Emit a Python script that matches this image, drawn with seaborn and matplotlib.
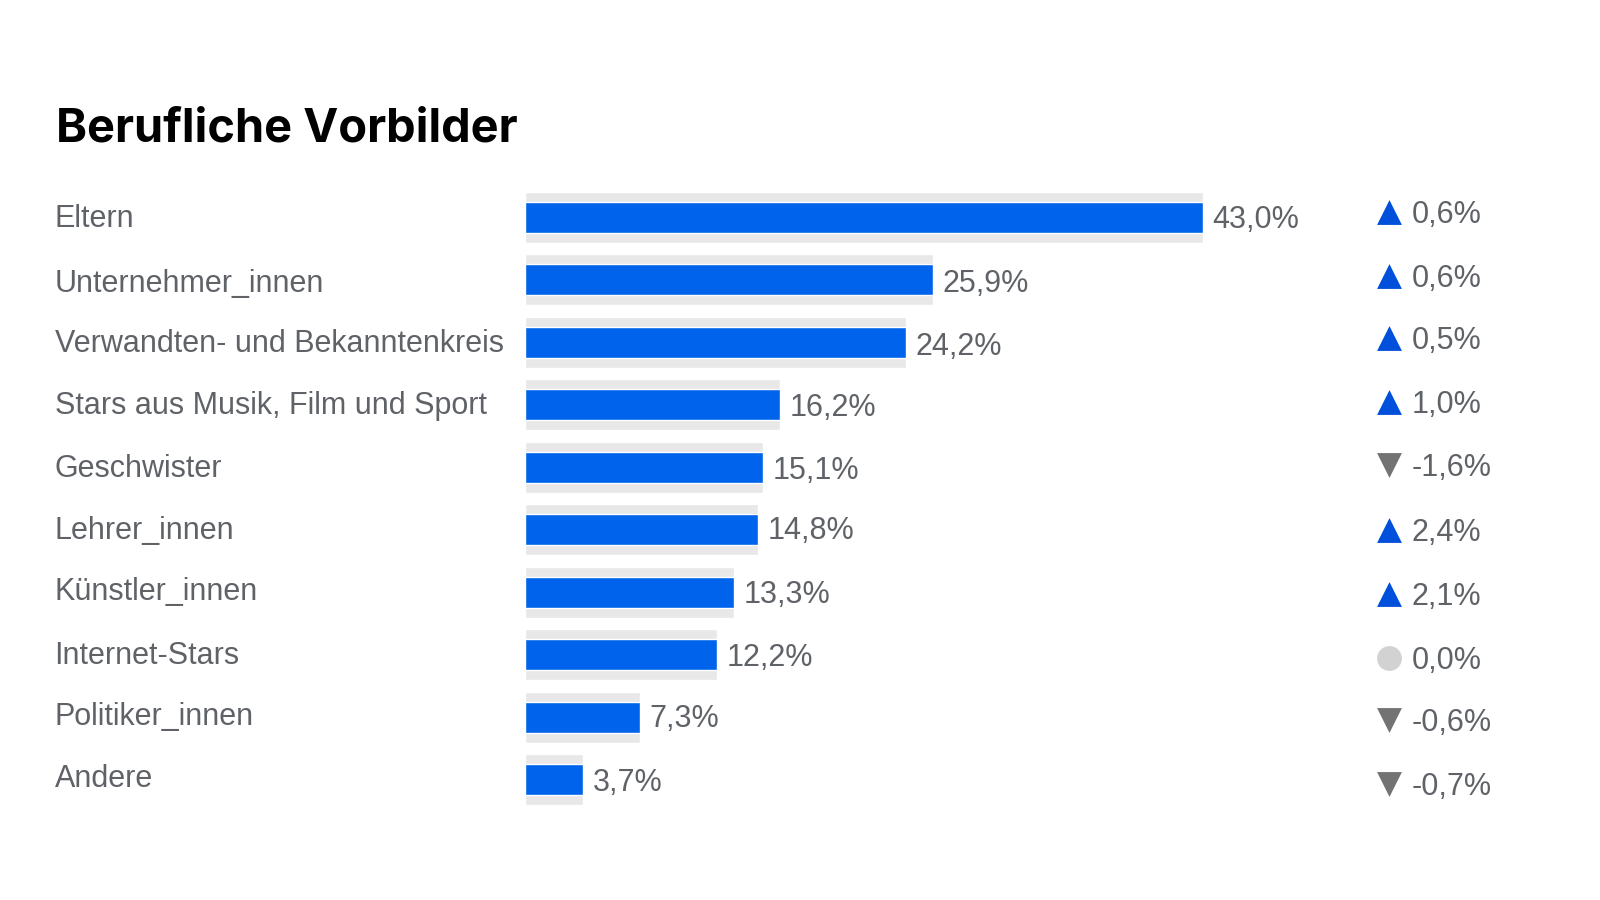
"""
Data Visualization Module
Creates the bar chart of professional role models
"""
import pandas as pd
import matplotlib.pyplot as plt
import seaborn as sns


CATEGORIES = ['Eltern', 'Unternehmer_innen', 'Verwandten- und Bekanntenkreis',
              'Stars aus Musik, Film und Sport', 'Geschwister', 'Lehrer_innen',
              'Künstler_innen', 'Internet-Stars', 'Politiker_innen', 'Andere']
VALUES = [43.0, 25.9, 24.2, 16.2, 15.1, 14.8, 13.3, 12.2, 7.3, 3.7]
CHANGES = [0.6, 0.6, 0.5, 1.0, -1.6, 2.4, 2.1, 0.0, -0.6, -0.7]

# Row text in the source sits a few pixels off the bars
NAME_SHIFT = [-1, 1, -1, -2, -1, -2, -3, -2, -3, -4]
VALUE_SHIFT = [0, 1, 2, 0, 1, -2, 0, 0, -1, 0]
CHANGE_SHIFT = [-5, -4, -4, -3, -2, 0, 2, 3, 3, 4]


class RoleModelVisualizer:
    """Create visualizations for the role model data"""

    def __init__(self):
        # Set style
        sns.set_style("white")
        plt.rcParams['font.family'] = ['Liberation Sans', 'DejaVu Sans']
        plt.rcParams['font.size'] = 22
        self.text_color = '#5f6368'

    def plot_role_models(self, df: pd.DataFrame, output_file: str = None):
        """
        Create bar chart of role models with changes on the right

        Args:
            df: DataFrame with role model statistics
            output_file: Optional output filename
        """
        fig = plt.figure(figsize=(16, 9))
        ax = fig.add_axes([524.5 / 1600, 1 - 811 / 900, 1075.5 / 1600, 625 / 900])

        # Grey track behind, blue bar on top
        sns.barplot(data=df, x='value', y='name', color='#e8e8e8', width=0.81,
                    saturation=1, ax=ax)
        sns.barplot(data=df, x='value', y='name', color='#0063eb', width=0.5,
                    saturation=1, ax=ax)

        ax.set_xlim(0, 68.2)
        ax.set_ylim(9.5, -0.5)
        ax.set_axis_off()

        px = 1 / 62.5  # one pixel in row units
        base = 11 * px  # baseline sits below the middle of the digits

        for i, row in df.iterrows():
            ax.text(-29.8, i + NAME_SHIFT[i] * px + base, row['name'], va='baseline',
                    color=self.text_color)
            ax.text(row['value'] + 0.62, i + VALUE_SHIFT[i] * px + base,
                    f"{row['value']:.1f}%".replace('.', ','), va='baseline',
                    color=self.text_color)

            # Marker depends on direction of the change
            if row['change'] > 0:
                marker, color = '^', '#0050dc'
            elif row['change'] < 0:
                marker, color = 'v', '#737373'
            else:
                marker, color = 'o', '#d2d2d2'
            y = i + CHANGE_SHIFT[i] * px
            ax.scatter(54.85, y, marker=marker, s=320, color=color, linewidth=0)
            ax.text(56.25, y + base, f"{row['change']:.1f}%".replace('.', ','),
                    va='baseline', color=self.text_color)

        fig.text(56 / 1600, 1 - 129 / 900, 'Berufliche Vorbilder', family='Inter',
                 fontsize=33.8, fontweight='bold', color='black', va='center')

        if output_file:
            plt.savefig(output_file, dpi=100)
            print(f"Saved chart to {output_file}")


if __name__ == "__main__":
    role_models = pd.DataFrame({'name': CATEGORIES, 'value': VALUES, 'change': CHANGES})

    visualizer = RoleModelVisualizer()
    visualizer.plot_role_models(role_models, "out.png")
